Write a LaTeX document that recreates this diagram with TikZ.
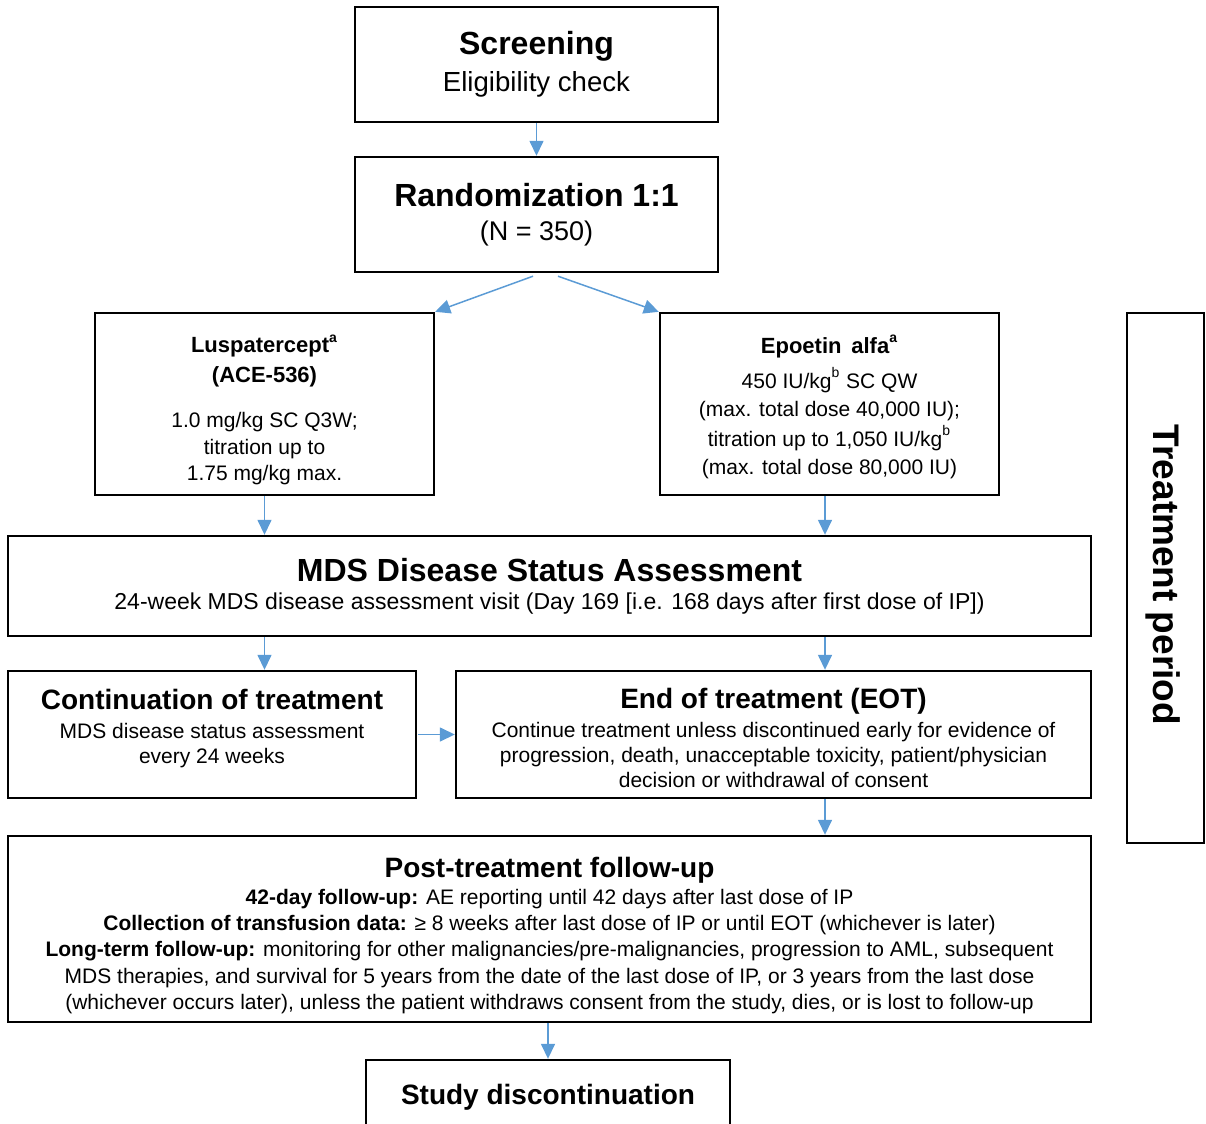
\documentclass[tikz,border=0pt]{standalone}
\usepackage{fontspec}
\setmainfont{Liberation Sans}
\usepackage{xcolor}
\usepackage{tikz}
\usetikzlibrary{arrows.meta}
\definecolor{arrblue}{RGB}{91,155,213}
\newcommand{\supmark}[1]{\textsuperscript{\raisebox{1.5pt}{\scriptsize #1}}}

\begin{document}
\begin{tikzpicture}[x=0.5pt, y=-0.5pt,
  box/.style={draw, line width=1.2pt, align=center, inner sep=0pt},
  arr/.style={draw=arrblue, line width=0.75pt, -{Triangle[length=7.5pt,width=7pt]}, arrblue},
  body/.style={font=\fontsize{10.5}{12.5}\selectfont}]
\useasboundingbox (0,0) rectangle (1206,1124);
% Boxes
\node[box, minimum width=181.5pt, minimum height=57.5pt] (scr) at (536.5,64.5)
  {{\bfseries\fontsize{16}{18}\selectfont Screening}\\[4pt]{\fontsize{13.8}{16}\selectfont Eligibility check}};
\node[box, minimum width=181.5pt, minimum height=57.5pt] (rand) at (536.5,214.5)
  {{\bfseries\fontsize{16}{19}\selectfont Randomization 1:1}\\[5pt]{\fontsize{13.5}{16}\selectfont (N = 350)}};
\node[box, font=\fontsize{10.5}{13.25}\selectfont, minimum width=169.5pt, minimum height=91pt] (lusp) at (264.5,404)
  {\textbf{\fontsize{11}{13}\selectfont Luspatercept\supmark{a}}\\[1.75pt]
   \textbf{\fontsize{11}{13}\selectfont (ACE-536)}\\[9.25pt]
   1.0 mg/kg SC Q3W;\\ titration up to\\ 1.75 mg/kg max.\\[-17pt]\mbox{}};
\node[box, font=\fontsize{10.5}{14}\selectfont, minimum width=169.5pt, minimum height=91pt] (epo) at (829.5,404)
  {\textbf{\fontsize{11}{13}\selectfont Epoetin\, alfa\supmark{a}}\\[3.5pt]
   450 IU/kg\supmark{b} SC QW\\
   (max. total dose 40,000 IU);\\[1pt]
   titration up to 1,050 IU/kg\supmark{b}\\
   (max. total dose 80,000 IU)\\[-14.8pt]\mbox{}};
\node[box, minimum width=541.5pt, minimum height=50pt] (mds) at (549.5,586)
  {{\bfseries\fontsize{16}{19}\selectfont MDS Disease Status Assessment}\\[2pt]
   {\fontsize{11.5}{13}\selectfont 24-week MDS disease assessment visit (Day 169 [i.e. 168 days after first dose of IP])}};
\node[box, body, minimum width=204pt, minimum height=63.5pt] (cont) at (212,734.5)
  {{\bfseries\fontsize{14}{17}\selectfont Continuation of treatment}\\[2pt]
   MDS disease status assessment\\ every 24 weeks\\[-4pt]\mbox{}};
\node[box, body, minimum width=317.5pt, minimum height=63.5pt] (eot) at (773.5,734.5)
  {{\bfseries\fontsize{14}{17}\selectfont End of treatment (EOT)}\\[2pt]
   Continue treatment unless discontinued early for evidence of\\
   progression, death, unacceptable toxicity, patient/physician\\
   decision or withdrawal of consent\\[-15.5pt]\mbox{}};
\node[box, font=\fontsize{10.5}{13.2}\selectfont, minimum width=541.5pt, minimum height=93pt] (post) at (549.5,929)
  {{\bfseries\fontsize{14}{15}\selectfont Post-treatment follow-up}\\[0.3pt]
   \textbf{42-day follow-up:} AE reporting until 42 days after last dose of IP\\
   \textbf{Collection of transfusion data:} ≥ 8 weeks after last dose of IP or until EOT (whichever is later)\\
   \textbf{Long-term follow-up:} monitoring for other malignancies/pre-malignancies, progression to AML, subsequent\\
   MDS therapies, and survival for 5 years from the date of the last dose of IP, or 3 years from the last dose\\
   (whichever occurs later), unless the patient withdraws consent from the study, dies, or is lost to follow-up\\[-17.5pt]\mbox{}};
\node[box, font=\fontsize{14}{16}\selectfont, minimum width=182pt, minimum height=40pt] (stop) at (548,1100)
  {\textbf{Study discontinuation}\\[-10pt]\mbox{}};
\node[box, minimum width=38.5pt, minimum height=265pt] (treat) at (1165.5,578) {};
\node[rotate=-90, font=\fontsize{18.5}{20}\selectfont\bfseries] (treatlbl) at (1163,575) {Treatment period};
% Arrows
\draw[arr] (scr) -- (rand);
\draw[arr] ([xshift=-1.75pt,yshift=-1.5pt]rand.south) -- (lusp.north east);
\draw[arr] ([xshift=10.75pt,yshift=-1.5pt]rand.south) -- (epo.north west);
\draw[arr] (lusp) -- (lusp.south |- mds.north);
\draw[arr] ([xshift=-2.25pt]epo.south) -- ([xshift=-2.25pt]epo.south |- mds.north);
\draw[arr] (mds.south -| lusp) -- (cont.north -| lusp);
\draw[arr] ([xshift=-2.25pt]mds.south -| epo) -- ([xshift=-2.25pt]eot.north -| epo);
\draw[arr] ([xshift=0.5pt]cont.east) -- (eot.west);
\draw[arr] ([xshift=-2.25pt]eot.south -| epo) -- ([xshift=-2.25pt]post.north -| epo);
\draw[arr] (post.south -| stop) -- (stop);
\end{tikzpicture}
\end{document}
